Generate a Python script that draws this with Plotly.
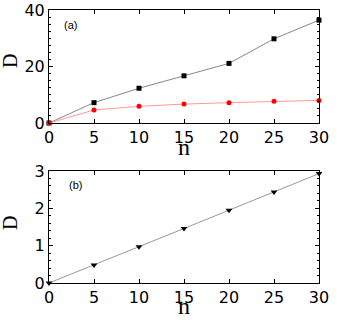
import plotly.graph_objects as go

n = [0, 5, 10, 15, 20, 25, 30]
d_black = [0, 7.2, 12.3, 16.7, 21.1, 29.8, 36.4]
d_red = [0, 4.6, 5.9, 6.7, 7.2, 7.7, 8.0]
d_b = [0, 0.48, 0.97, 1.46, 1.95, 2.44, 2.93]

W, H = 343, 325

def px_x(x):
    return x / W

def px_y(y):
    return 1 - y / H

fig = go.Figure()

fig.add_trace(go.Scatter(x=n, y=d_black, mode='lines+markers',
                         line=dict(color='#888888', width=1),
                         marker=dict(color='black', size=5, symbol='square'),
                         xaxis='x', yaxis='y', cliponaxis=False))
fig.add_trace(go.Scatter(x=n, y=d_red, mode='lines+markers',
                         line=dict(color='#ff9999', width=1),
                         marker=dict(color='red', size=5, symbol='circle'),
                         xaxis='x', yaxis='y', cliponaxis=False))
fig.add_trace(go.Scatter(x=n, y=d_b, mode='lines+markers',
                         line=dict(color='#999999', width=1),
                         marker=dict(color='black', size=6, symbol='triangle-down'),
                         xaxis='x2', yaxis='y2', cliponaxis=False))

tickfont = dict(family='DejaVu Sans', size=16, color='black')
serif = 'Liberation Serif, Times New Roman'

# shared axis styling
common = dict(showgrid=False, zeroline=False, showline=True, linecolor='black',
              linewidth=1, mirror='ticks', ticks='inside', ticklen=4,
              tickcolor='black', tickfont=tickfont, automargin=False,
              ticklabeloverflow='allow')

def minor(step):
    return dict(ticks='inside', ticklen=2, tickcolor='black', dtick=step)

xdom = [px_x(49), px_x(319)]

fig.update_layout(
    width=W, height=H,
    margin=dict(l=0, r=0, t=0, b=0),
    paper_bgcolor='white', plot_bgcolor='white',
    showlegend=False,
    xaxis=dict(domain=xdom, range=[0, 30], dtick=5, anchor='y', **common),
    yaxis=dict(domain=[px_y(123), px_y(10)], range=[0, 40], dtick=20, anchor='x',
               minor=minor(2.5), **common),
    xaxis2=dict(domain=xdom, range=[0, 30], dtick=5, anchor='y2', **common),
    yaxis2=dict(domain=[px_y(283), px_y(171)], range=[0, 3], dtick=1, anchor='x2',
                minor=minor(0.2), **common),
)

labels = [
    ('(a)', 62, 25, 0, dict(family='Liberation Sans, Arial', size=11, color='black'), 'left'),
    ('(b)', 67, 185, 0, dict(family='Liberation Sans, Arial', size=11, color='black'), 'left'),
    ('n', 184, 147, 0, dict(family=serif, size=24, color='black'), 'center'),
    ('n', 184, 306, 0, dict(family=serif, size=24, color='black'), 'center'),
    ('D', 10, 61, -90, dict(family=serif, size=20, color='black'), 'center'),
    ('D', 10, 223, -90, dict(family=serif, size=20, color='black'), 'center'),
]
for text, x, y, ang, font, xa in labels:
    fig.add_annotation(text=text, x=px_x(x), y=px_y(y), xref='paper', yref='paper',
                       showarrow=False, textangle=ang, font=font,
                       xanchor=xa, yanchor='middle')

# drop the default 8px body margin so the figure sits at the window corner
fig.write_html("out.html", config={'displayModeBar': False},
               post_script="document.body.style.margin='0';")
